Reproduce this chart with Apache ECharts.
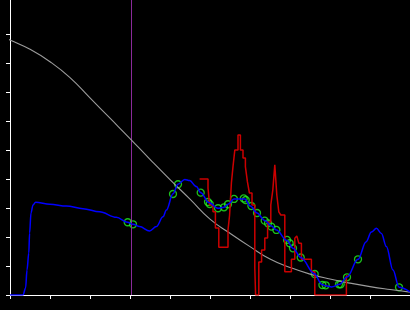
<!DOCTYPE html>
<html><head><meta charset="utf-8">
<script src="https://cdn.jsdelivr.net/npm/echarts@6/dist/echarts.min.js"></script>
<style>html,body{margin:0;padding:0;background:#000}#c{width:410px;height:310px}</style>
</head><body><div id="c"></div>
<script>
// Data (x in axis units 0..10, y in axis units, tick = 1)
const markerX = 3.0375;
const yTicks = [0,1,2,3,4,5,6,7,8,9];

const grayX = [-0.26, 0, 0.5, 1.0, 1.5, 2.0, 2.5, 3.0, 3.5, 4.0, 4.5, 5.0, 5.5, 6.0, 6.5, 7.0, 7.5, 8.0, 8.5, 9.0, 9.5, 10.0];
const grayY = [8.97, 8.8, 8.48, 8.05, 7.5, 6.8, 6.1, 5.4, 4.68, 3.98, 3.31, 2.62, 2.13, 1.67, 1.24, 0.95, 0.72, 0.55, 0.41, 0.29, 0.19, 0.10];

const blueX = [0, 0.325, 0.39, 0.425, 0.47, 0.49, 0.525, 0.575, 0.64, 1.0, 1.41, 1.825, 2.24, 2.66, 2.94, 3.075, 3.24, 3.49, 3.66, 3.825, 3.91, 4.075, 4.2, 4.37, 4.49, 4.66, 4.77, 4.97, 5.2, 5.35, 5.45, 5.6, 5.87, 6.01, 6.175, 6.37, 6.535, 6.66, 6.925, 7.075, 7.27, 7.61, 7.8, 7.89, 8.04, 8.24, 8.425, 8.7, 8.9, 9.035, 9.16, 9.285, 9.41, 9.575, 9.725, 10.0];
const blueY = [0, 0, 0.24, 0.86, 1.45, 2.14, 2.83, 3.11, 3.2, 3.13, 3.07, 2.98, 2.87, 2.68, 2.51, 2.44, 2.36, 2.21, 2.36, 2.70, 2.93, 3.49, 3.82, 3.99, 3.95, 3.74, 3.53, 3.19, 2.99, 3.03, 3.13, 3.31, 3.31, 3.07, 2.83, 2.57, 2.38, 2.24, 1.88, 1.61, 1.29, 0.73, 0.36, 0.32, 0.28, 0.37, 0.62, 1.23, 1.83, 2.17, 2.30, 2.12, 1.67, 0.86, 0.27, 0.11];

const redX = [4.74, 4.95, 4.99, 5.075, 5.135, 5.22, 5.45, 5.49, 5.535, 5.575, 5.62, 5.70, 5.76, 5.825, 5.885, 5.935, 5.985, 6.05, 6.12, 6.14, 6.22, 6.29, 6.37, 6.44, 6.52, 6.57, 6.62, 6.67, 6.72, 6.77, 6.87, 7.035, 7.12, 7.17, 7.22, 7.285, 7.535, 7.62, 8.41, 8.44];
const redY = [4.00, 3.69, 3.11, 2.87, 2.31, 1.65, 2.24, 2.76, 3.87, 4.43, 5.00, 5.52, 5.00, 4.73, 4.43, 3.91, 3.52, 3.11, 0.93, 0, 1.14, 1.55, 1.97, 2.52, 3.11, 3.62, 4.49, 3.45, 2.87, 2.76, 0.80, 1.23, 1.96, 2.04, 1.79, 1.23, 0.80, 0, 0.66, 0.66];

const greenX = [2.9425, 3.075, 4.075, 4.2, 4.7675, 4.95, 4.9925, 5.2, 5.35, 5.45, 5.6, 5.8425, 5.8925, 6.035, 6.175, 6.3675, 6.45, 6.535, 6.66, 6.925, 6.9925, 7.075, 7.2675, 7.6175, 7.81, 7.8925, 8.225, 8.2675, 8.425, 8.7, 9.725];
const greenY = [2.51, 2.44, 3.486, 3.821, 3.531, 3.21, 3.141, 2.993, 3.027, 3.131, 3.314, 3.331, 3.279, 3.072, 2.83, 2.565, 2.475, 2.358, 2.244, 1.899, 1.785, 1.612, 1.294, 0.725, 0.345, 0.335, 0.369, 0.369, 0.611, 1.232, 0.266];

const zip = (xs, ys) => xs.map((x, i) => [x, ys[i]]);
const Y_MAX = 10.18;

const chart = echarts.init(document.getElementById('c'), null, {renderer: 'canvas'});
chart.setOption({
  backgroundColor: '#000',
  animation: false,
  grid: {left: 10, right: 0, top: 0, bottom: 15, containLabel: false},
  xAxis: {
    type: 'value', min: 0, max: 10, interval: 1,
    axisLine: {show: true, onZero: false, lineStyle: {color: '#fff', width: 1}},
    axisTick: {show: true, length: 4, inside: false, lineStyle: {color: '#fff', width: 1}},
    axisLabel: {show: false},
    splitLine: {show: false}
  },
  yAxis: {
    type: 'value', min: 0, max: Y_MAX,
    axisLine: {show: true, onZero: false, lineStyle: {color: '#fff', width: 1}},
    axisTick: {show: true, length: 4, inside: false, customValues: yTicks, lineStyle: {color: '#fff', width: 1}},
    axisLabel: {show: false, customValues: yTicks},
    splitLine: {show: false}
  },
  series: [
    {type: 'line', data: [[markerX, 0], [markerX, Y_MAX]], symbol: 'none',
     lineStyle: {color: '#8a2a9a', width: 1}, silent: true},
    {type: 'line', data: zip(grayX, grayY), symbol: 'none', smooth: true, clip: false,
     lineStyle: {color: '#9c9c9c', width: 1.1}},
    {type: 'line', data: zip(redX, redY), symbol: 'none', step: 'end',
     lineStyle: {color: '#cc0000', width: 1.5}},
    {type: 'line', data: zip(blueX, blueY), symbol: 'none', smooth: 0.35, smoothMonotone: 'x',
     lineStyle: {color: '#0000ff', width: 1.5}},
    {type: 'scatter', data: zip(greenX, greenY), symbol: 'circle', symbolSize: 7,
     itemStyle: {color: 'rgba(0,0,0,0)', borderColor: '#22ee22', borderWidth: 1.3}}
  ]
});
</script></body></html>
